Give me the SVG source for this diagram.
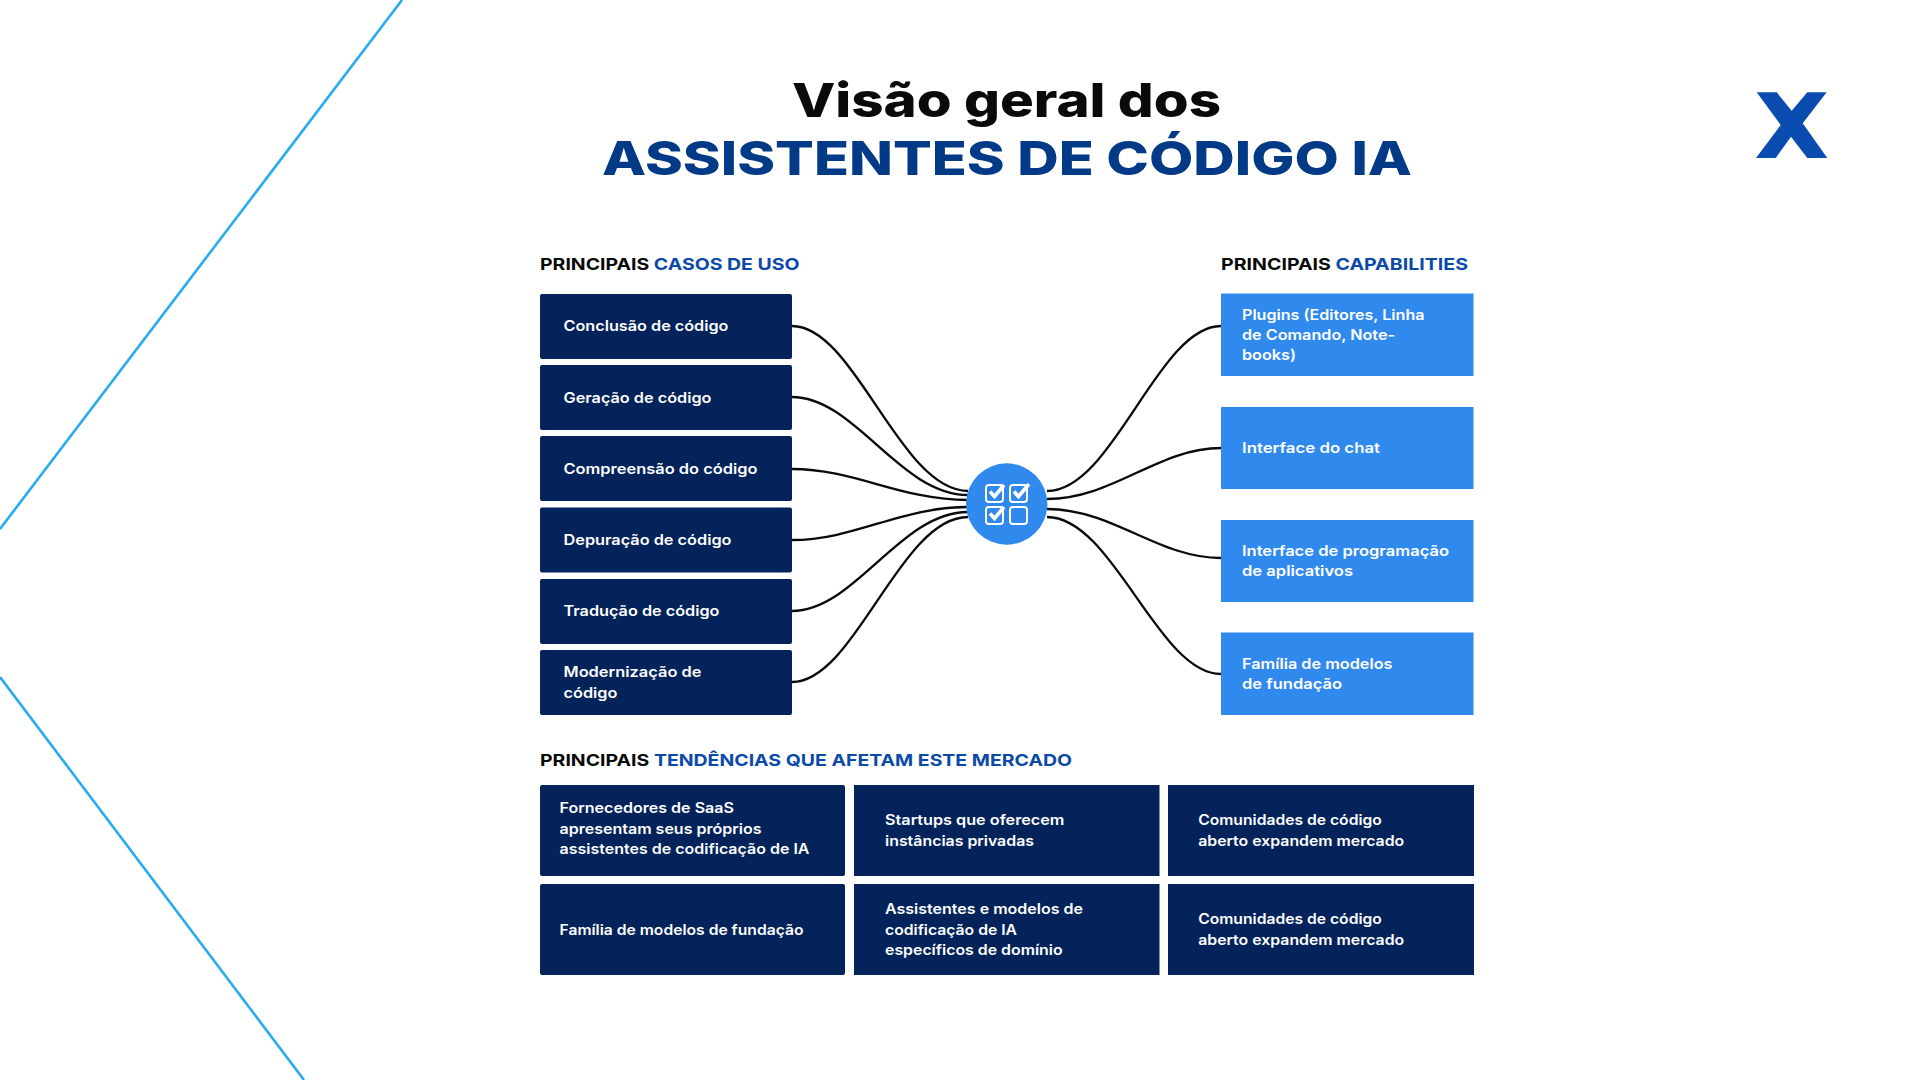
<svg xmlns="http://www.w3.org/2000/svg" width="1920" height="1080" viewBox="0 0 1920 1080">
<style>
text{font-family:"Inter","Liberation Sans",sans-serif;}
.t{font-size:47px;font-weight:800;}
.h{font-size:16.5px;font-weight:700;fill:#0a0a0a;}
.b{fill:#0b4aa8;}
.w{font-size:14.5px;font-weight:600;fill:#fff;}
.d{fill:#03235a;}
.l{fill:#308aee;}
.c{fill:none;stroke:#0a0a0a;stroke-width:2.3;}
.dl{fill:none;stroke:#29abf0;stroke-width:2.6;}
.ic{fill:none;stroke:#fff;stroke-width:2;}
.ck{fill:none;stroke:#fff;stroke-width:3.6;}
</style>
<rect width="1920" height="1080" fill="#fff"/>
<g id="decor">
<path class="dl" d="M402 0L0 529"/>
<path class="dl" d="M0 677L304 1080"/>
<polygon id="logo" fill="#0a4cb0" points="1756.7,92.3 1776.7,92.3 1791.7,110.7 1807.3,92.3 1826.7,92.3 1802.7,123.3 1827.3,158 1807.3,158 1791,136.7 1775.7,158 1756,158 1780.7,125"/>
</g>
<g id="title">
<text class="t" x="792" y="117" fill="#0a0a0a" textLength="429" lengthAdjust="spacingAndGlyphs">Visão geral dos</text>
<text class="t" x="602" y="175" fill="#033a87" textLength="810" lengthAdjust="spacingAndGlyphs">ASSISTENTES DE CÓDIGO IA</text>
</g>
<g id="headers">
<text class="h" x="540" y="270" textLength="259.500" lengthAdjust="spacingAndGlyphs">PRINCIPAIS <tspan class="b">CASOS DE USO</tspan></text>
<text class="h" x="1221" y="270" textLength="247" lengthAdjust="spacingAndGlyphs">PRINCIPAIS <tspan class="b">CAPABILITIES</tspan></text>
<text class="h" x="540" y="766" textLength="532" lengthAdjust="spacingAndGlyphs">PRINCIPAIS <tspan class="b">TENDÊNCIAS QUE AFETAM ESTE MERCADO</tspan></text>
</g>
<g id="connectors">
<path class="c" d="M792 326C855 326 900 491 968 491"/>
<path class="c" d="M792 397C855 397 900 495 968 495"/>
<path class="c" d="M792 469C855 469 900 500 968 500"/>
<path class="c" d="M792 540C855 540 900 507 968 507"/>
<path class="c" d="M792 611C855 611 900 512 968 512"/>
<path class="c" d="M792 682C855 682 900 517 968 517"/>
<path class="c" d="M1221 326C1158 326 1113 491 1047 491"/>
<path class="c" d="M1221 448C1158 448 1113 499 1047 499"/>
<path class="c" d="M1221 558C1158 558 1113 509 1047 509"/>
<path class="c" d="M1221 674C1158 674 1113 517 1047 517"/>
</g>
<g id="hub">
<circle class="l" cx="1006.700" cy="504" r="40.700"/>
<rect class="ic" x="986" y="485" width="17" height="17" rx="3"/>
<rect class="ic" x="1010" y="485" width="17" height="17" rx="3"/>
<rect class="ic" x="986" y="507" width="17" height="17" rx="3"/>
<rect class="ic" x="1010" y="507" width="17" height="17" rx="3"/>
<path class="ck" d="M990 491.500L994.500 496.500L1004 485"/>
<path class="ck" d="M1014 491.500L1018.500 496.500L1029 484"/>
<path class="ck" d="M990 513.500L994.500 518.500L1004 507"/>
</g>
<g id="uc1"><rect class="d" x="540" y="294" width="252" height="65" rx="2"/><text class="w" x="563.500" y="331" textLength="165" lengthAdjust="spacingAndGlyphs">Conclusão de código</text></g>
<g id="uc2"><rect class="d" x="540" y="365" width="252" height="65" rx="2"/><text class="w" x="563.500" y="402.500" textLength="148" lengthAdjust="spacingAndGlyphs">Geração de código</text></g>
<g id="uc3"><rect class="d" x="540" y="436" width="252" height="65" rx="2"/><text class="w" x="563.500" y="473.500" textLength="194" lengthAdjust="spacingAndGlyphs">Compreensão do código</text></g>
<g id="uc4"><rect class="d" x="540" y="507.500" width="252" height="65" rx="2"/><text class="w" x="563.500" y="545" textLength="168" lengthAdjust="spacingAndGlyphs">Depuração de código</text></g>
<g id="uc5"><rect class="d" x="540" y="579" width="252" height="65" rx="2"/><text class="w" x="563.500" y="616" textLength="156" lengthAdjust="spacingAndGlyphs">Tradução de código</text></g>
<g id="uc6"><rect class="d" x="540" y="650" width="252" height="65" rx="2"/><text class="w" x="563.500" y="677" textLength="138" lengthAdjust="spacingAndGlyphs">Modernização de</text><text class="w" x="563.500" y="697.500" textLength="54" lengthAdjust="spacingAndGlyphs">código</text></g>
<g id="cap1"><rect class="l" x="1221" y="293.500" width="252.500" height="82.500"/><text class="w" x="1242" y="319.500" textLength="182.500" lengthAdjust="spacingAndGlyphs">Plugins (Editores, Linha</text><text class="w" x="1242" y="339.500" textLength="153" lengthAdjust="spacingAndGlyphs">de Comando, Note-</text><text class="w" x="1242" y="360" textLength="54" lengthAdjust="spacingAndGlyphs">books)</text></g>
<g id="cap2"><rect class="l" x="1221" y="407" width="252.500" height="82"/><text class="w" x="1242" y="453" textLength="138" lengthAdjust="spacingAndGlyphs">Interface do chat</text></g>
<g id="cap3"><rect class="l" x="1221" y="520" width="252.500" height="82"/><text class="w" x="1242" y="555.500" textLength="207" lengthAdjust="spacingAndGlyphs">Interface de programação</text><text class="w" x="1242" y="576" textLength="111" lengthAdjust="spacingAndGlyphs">de aplicativos</text></g>
<g id="cap4"><rect class="l" x="1221" y="632.500" width="252.500" height="82.500"/><text class="w" x="1242" y="668.500" textLength="150.500" lengthAdjust="spacingAndGlyphs">Família de modelos</text><text class="w" x="1242" y="688.500" textLength="100" lengthAdjust="spacingAndGlyphs">de fundação</text></g>
<g id="tr1"><rect class="d" x="540" y="785" width="305" height="91" rx="2"/><text class="w" x="559.500" y="813.300" textLength="174.500" lengthAdjust="spacingAndGlyphs">Fornecedores de SaaS</text><text class="w" x="559.500" y="833.700" textLength="202" lengthAdjust="spacingAndGlyphs">apresentam seus próprios</text><text class="w" x="559.500" y="854" textLength="250" lengthAdjust="spacingAndGlyphs">assistentes de codificação de IA</text></g>
<g id="tr2"><rect class="d" x="854" y="785" width="305.500" height="91"/><text class="w" x="885" y="825" textLength="179.400" lengthAdjust="spacingAndGlyphs">Startups que oferecem</text><text class="w" x="885" y="845.700" textLength="149" lengthAdjust="spacingAndGlyphs">instâncias privadas</text></g>
<g id="tr3"><rect class="d" x="1168" y="785" width="306" height="91"/><text class="w" x="1198.200" y="825" textLength="183.700" lengthAdjust="spacingAndGlyphs">Comunidades de código</text><text class="w" x="1198.200" y="845.700" textLength="206" lengthAdjust="spacingAndGlyphs">aberto expandem mercado</text></g>
<g id="tr4"><rect class="d" x="540" y="884" width="305" height="91" rx="2"/><text class="w" x="559.500" y="934.500" textLength="244" lengthAdjust="spacingAndGlyphs">Família de modelos de fundação</text></g>
<g id="tr5"><rect class="d" x="854" y="884" width="305.500" height="91"/><text class="w" x="885" y="913.700" textLength="198" lengthAdjust="spacingAndGlyphs">Assistentes e modelos de</text><text class="w" x="885" y="934.700" textLength="132" lengthAdjust="spacingAndGlyphs">codificação de IA</text><text class="w" x="885" y="955" textLength="177.600" lengthAdjust="spacingAndGlyphs">específicos de domínio</text></g>
<g id="tr6"><rect class="d" x="1168" y="884" width="306" height="91"/><text class="w" x="1198.200" y="924.300" textLength="183.700" lengthAdjust="spacingAndGlyphs">Comunidades de código</text><text class="w" x="1198.200" y="944.700" textLength="206" lengthAdjust="spacingAndGlyphs">aberto expandem mercado</text></g>
</svg>
